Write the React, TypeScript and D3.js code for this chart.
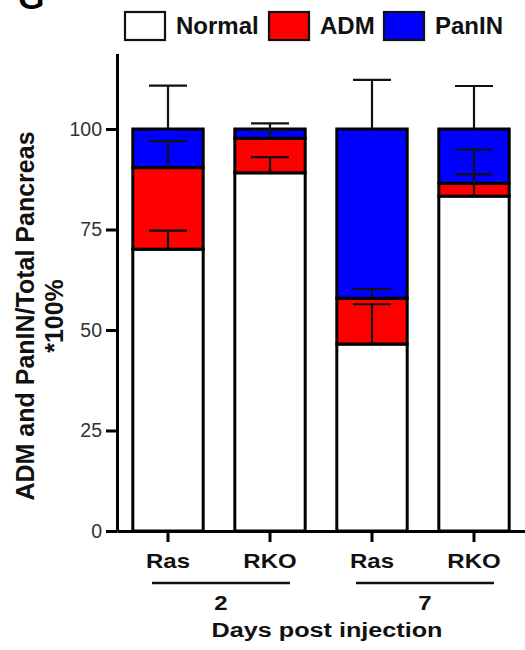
import React, { useRef, useEffect } from 'react';
import * as d3 from 'd3';

const groups = ['Ras', 'RKO', 'Ras', 'RKO'];
const days = ['2', '2', '7', '7'];
const keys = ['Normal', 'ADM', 'PanIN'];
const normal = [70.1, 89.1, 46.5, 83.3];
const adm = [20.3, 8.6, 11.4, 3.2];
const panin = [9.6, 2.3, 42.1, 13.5];
const normalErr = [4.6, 3.9, 9.9, 5.4];
const admErr = [6.6, 2.0, 2.3, 8.4];
const paninErr = [10.8, 1.4, 12.2, 10.7];
const yTicks = [0, 25, 50, 75, 100];
const colors = ['#ffffff', '#ff0000', '#0000ff'];

const FONT = '"Liberation Sans", Arial, sans-serif';
const SX = 1.2; // the figure's bottom labels are a bit wider than plain Arial

const App = () => {
  const svgRef = useRef<SVGSVGElement>(null);

  useEffect(() => {
    const svg = d3.select(svgRef.current);
    svg.selectAll('*').remove();

    const width = 525;
    const left = 117;
    const bottom = 531;

    const rows = groups.map((g, i) => ({
      i,
      Normal: normal[i],
      ADM: adm[i],
      PanIN: panin[i],
    }));
    const errs = [normalErr, admErr, paninErr];

    const x = d3
      .scaleBand<number>()
      .domain(rows.map((d) => d.i))
      .range([left, width])
      .paddingInner(0.31)
      .paddingOuter(0.155);
    const y = d3.scaleLinear().domain([0, 118.8]).range([bottom, bottom - 118.8 * 4.02]);
    const cx = (i: number) => x(i)! + x.bandwidth() / 2;

    const stack = d3.stack<any>().keys(keys)(rows);

    // wide bold label helper
    const label = (tx: number, ty: number, txt: string, size: number) =>
      svg
        .append('text')
        .attr('transform', `translate(${tx},${ty}) scale(${SX},1)`)
        .attr('text-anchor', 'middle')
        .attr('font-family', FONT)
        .attr('font-weight', 'bold')
        .attr('font-size', size)
        .attr('fill', '#111')
        .text(txt);

    // panel letter (cropped at the top like the original)
    svg
      .append('text')
      .attr('x', 18)
      .attr('y', 9)
      .attr('font-family', FONT)
      .attr('font-weight', 'bold')
      .attr('font-size', 34)
      .text('G');

    // bars
    const gBars = svg.append('g');
    stack.forEach((layer, k) => {
      gBars
        .append('g')
        .selectAll('rect')
        .data(layer)
        .join('rect')
        .attr('x', (d: any) => x(d.data.i)!)
        .attr('width', x.bandwidth())
        .attr('y', (d) => y(d[1]))
        .attr('height', (d) => y(d[0]) - y(d[1]))
        .attr('fill', colors[k])
        .attr('stroke', '#000')
        .attr('stroke-width', 3);
    });

    // error bars (upper half only)
    const capW = 38;
    const gErr = svg.append('g').attr('stroke', '#111').attr('stroke-width', 2.2);
    stack.forEach((layer, k) => {
      layer.forEach((d: any) => {
        const c = cx(d.data.i);
        const top = d[1] + errs[k][d.data.i];
        gErr.append('line').attr('x1', c).attr('x2', c).attr('y1', y(d[1])).attr('y2', y(top));
        gErr
          .append('line')
          .attr('x1', c - capW / 2)
          .attr('x2', c + capW / 2)
          .attr('y1', y(top))
          .attr('y2', y(top));
      });
    });

    // y axis
    const gy = svg.append('g').attr('transform', `translate(${left},0)`);
    gy.call(d3.axisLeft(y).tickValues(yTicks).tickSize(11).tickPadding(4).tickSizeOuter(0));
    gy.select('.domain').attr('stroke', '#000').attr('stroke-width', 3);
    gy.selectAll('.tick line').attr('stroke', '#000').attr('stroke-width', 3);
    gy.selectAll('.tick text')
      .attr('font-family', FONT)
      .attr('font-size', 19.5)
      .attr('fill', '#333');

    // x axis
    const gx = svg.append('g').attr('transform', `translate(0,${bottom})`);
    gx.call(d3.axisBottom(x).tickSize(11).tickSizeOuter(0).tickFormat(() => ''));
    gx.select('.domain').attr('stroke', '#000').attr('stroke-width', 3);
    gx.selectAll('.tick line').attr('stroke', '#000').attr('stroke-width', 3);
    rows.forEach((r) => label(cx(r.i), 568, groups[r.i], 20));

    // day groups
    const dayNames = Array.from(new Set(days));
    dayNames.forEach((dname) => {
      const idx = rows.filter((r) => days[r.i] === dname).map((r) => r.i);
      const x0 = cx(idx[0]) - 16;
      const x1 = cx(idx[idx.length - 1]) + 20;
      svg
        .append('line')
        .attr('x1', x0)
        .attr('x2', x1)
        .attr('y1', 583)
        .attr('y2', 583)
        .attr('stroke', '#111')
        .attr('stroke-width', 2.5);
      label((x0 + x1) / 2, 610, dname, 20);
    });

    label(327, 637, 'Days post injection', 21);

    // y title
    const yt = svg
      .append('text')
      .attr('transform', 'translate(0,316) rotate(-90)')
      .attr('text-anchor', 'middle')
      .attr('font-family', FONT)
      .attr('font-weight', 'bold')
      .attr('font-size', 25)
      .attr('fill', '#111');
    yt.append('tspan').attr('x', 0).attr('y', 34).text('ADM and PanIN/Total Pancreas');
    yt.append('tspan').attr('x', 0).attr('y', 63).text('*100%');

    // legend
    const legendX = [125, 269, 384];
    const gLeg = svg.append('g');
    keys.forEach((k, i) => {
      gLeg
        .append('rect')
        .attr('x', legendX[i])
        .attr('y', 12)
        .attr('width', 40)
        .attr('height', 28)
        .attr('fill', colors[i])
        .attr('stroke', '#111')
        .attr('stroke-width', 2.2);
      gLeg
        .append('text')
        .attr('x', legendX[i] + 51)
        .attr('y', 34)
        .attr('font-family', FONT)
        .attr('font-weight', 'bold')
        .attr('font-size', 24)
        .attr('fill', '#111')
        .text(k);
    });
  }, []);

  return (
    <svg
      ref={svgRef}
      width={525}
      height={650}
      style={{ position: 'absolute', left: 0, top: 0, background: '#fff' }}
    ></svg>
  );
};

export default App;
